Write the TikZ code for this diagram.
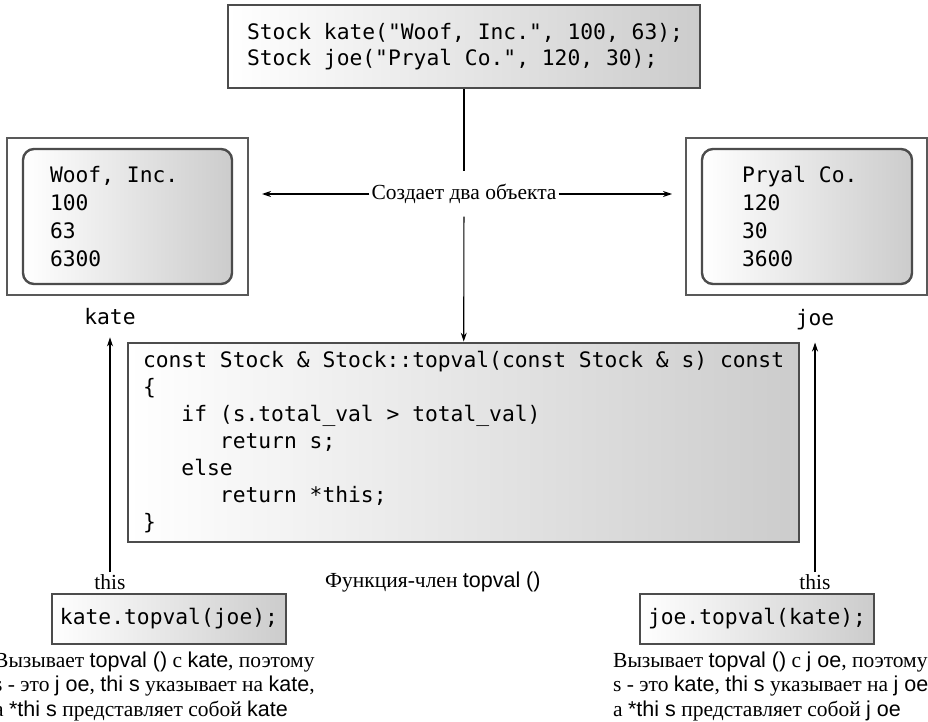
\documentclass[tikz,border=0pt]{standalone}
\usepackage{fontspec}
\setmainfont{Liberation Serif}
\setmonofont{DejaVu Sans Mono}
\newfontfamily\inl{Liberation Sans}
\newcommand\codefnt[1]{\fontsize{21.3}{#1}\selectfont\ttfamily}
\newcommand\ssp{\hspace*{0.602em}}
\usetikzlibrary{arrows.meta}
\begin{document}
\begin{tikzpicture}[x=1pt,y=-1pt,
  shadebox/.style={draw=black!70, left color=white, right color=black!20},
  frame/.style={draw=black!65, line width=2pt, fill=white, minimum width=241pt, minimum height=157pt, inner sep=0pt},
  objbox/.style={shadebox, line width=2.4pt, rounded corners=11pt, minimum height=135pt, align=left, font=\codefnt{28}},
  callbox/.style={shadebox, line width=2.4pt, minimum width=234pt, minimum height=50pt, inner sep=0pt, font=\codefnt{27}},
  lbl/.style={font=\fontsize{21.5}{25}\selectfont, inner sep=2pt},
  vname/.style={font=\codefnt{25}, inner sep=2pt},
  arr/.style={-{Stealth[length=9pt,width=6pt]}, line width=1.1pt},
  ln/.style={line width=1.1pt},
  note/.style={font=\fontsize{21.5}{24.5}\selectfont, align=left, inner sep=0pt}
]
\useasboundingbox (0,0) rectangle (928,722);

% top declaration box
\node[shadebox, line width=2.6pt, minimum height=83pt, text width=434pt, inner xsep=19pt, align=left,
      font=\codefnt{26}] (decl) at (464,46.5)
  {Stock\ssp kate("Woof,\ssp Inc.",\ssp 100,\ssp 63);\\Stock\ssp joe("Pryal\ssp Co.",\ssp 120,\ssp 30);};

% label in the middle
\node[lbl, minimum height=45pt] (make) at (464,194) {Создает два объекта};

% kate object
\node[frame] (kateo) at (127.5,216.5) {};
\node[objbox, minimum width=209pt, text width=155pt, inner xsep=27pt] (katei) at (127.5,216.5)
  {Woof,\ssp Inc.\\100\\63\\6300};
\node[vname] (katen) at (110,317) {kate};

% joe object
\node[frame] (joeo) at (806.5,216.5) {};
\node[objbox, minimum width=210pt, text width=130pt, inner xsep=40pt] (joei) at (807,216.5)
  {Pryal\ssp Co.\\120\\30\\3600};
\node[vname] (joen) at (815,320) {joe};

% code box
\node[shadebox, line width=2.8pt, minimum height=199pt, text width=641pt, inner xsep=15pt, align=left,
      font=\codefnt{27}] (code) at (463.5,442.5)
  {const\ssp Stock\ssp\&\ssp Stock::topval(const\ssp Stock\ssp\&\ssp s)\ssp const\\
   \{\\
   \phantom{xxx}if\ssp(s.total\_val\ssp>\ssp total\_val)\\
   \phantom{xxxxxx}return\ssp s;\\
   \phantom{xxx}else\\
   \phantom{xxxxxx}return\ssp *this;\\
   \}};

% function label
\node[lbl, anchor=west] (fn) at (323,582) {Функция-член {\inl topval ()}};

% calls
\node[lbl] (thisl) at (110,582) {this};
\node[lbl] (thisr) at (815,582) {this};
\node[callbox] (callk) at (169,619) {kate.topval(joe);};
\node[callbox] (callj) at (757,619) {joe.topval(kate);};

% notes
\node[note, anchor=base west] (notek) at (-6,716)
  {Вызывает {\inl topval ()} с {\inl kate}, поэтому\\
   s - это {\inl j oe}, {\inl thi s} указывает на {\inl kate},\\
   а {\inl *thi s} представляет собой {\inl kate}};
\node[note, anchor=base west] (notej) at (613,716)
  {Вызывает {\inl topval ()} с {\inl j oe}, поэтому\\
   s - это {\inl kate}, {\inl thi s} указывает на {\inl j oe},\\
   а {\inl *thi s} представляет собой {\inl j oe}};

% connectors
\draw[ln] (decl) -- (make);
\draw[arr] (make) -- (code);
\draw[arr, shorten >=13pt] (make.west) -- (make.west -| kateo.east);
\draw[arr, shorten >=13pt] (make.east) -- (make.east -| joeo.west);
\draw[arr, shorten >=10pt] (thisl) -- (katen);
\draw[arr, shorten >=10pt] (thisr) -- (joen);
\end{tikzpicture}
\end{document}
